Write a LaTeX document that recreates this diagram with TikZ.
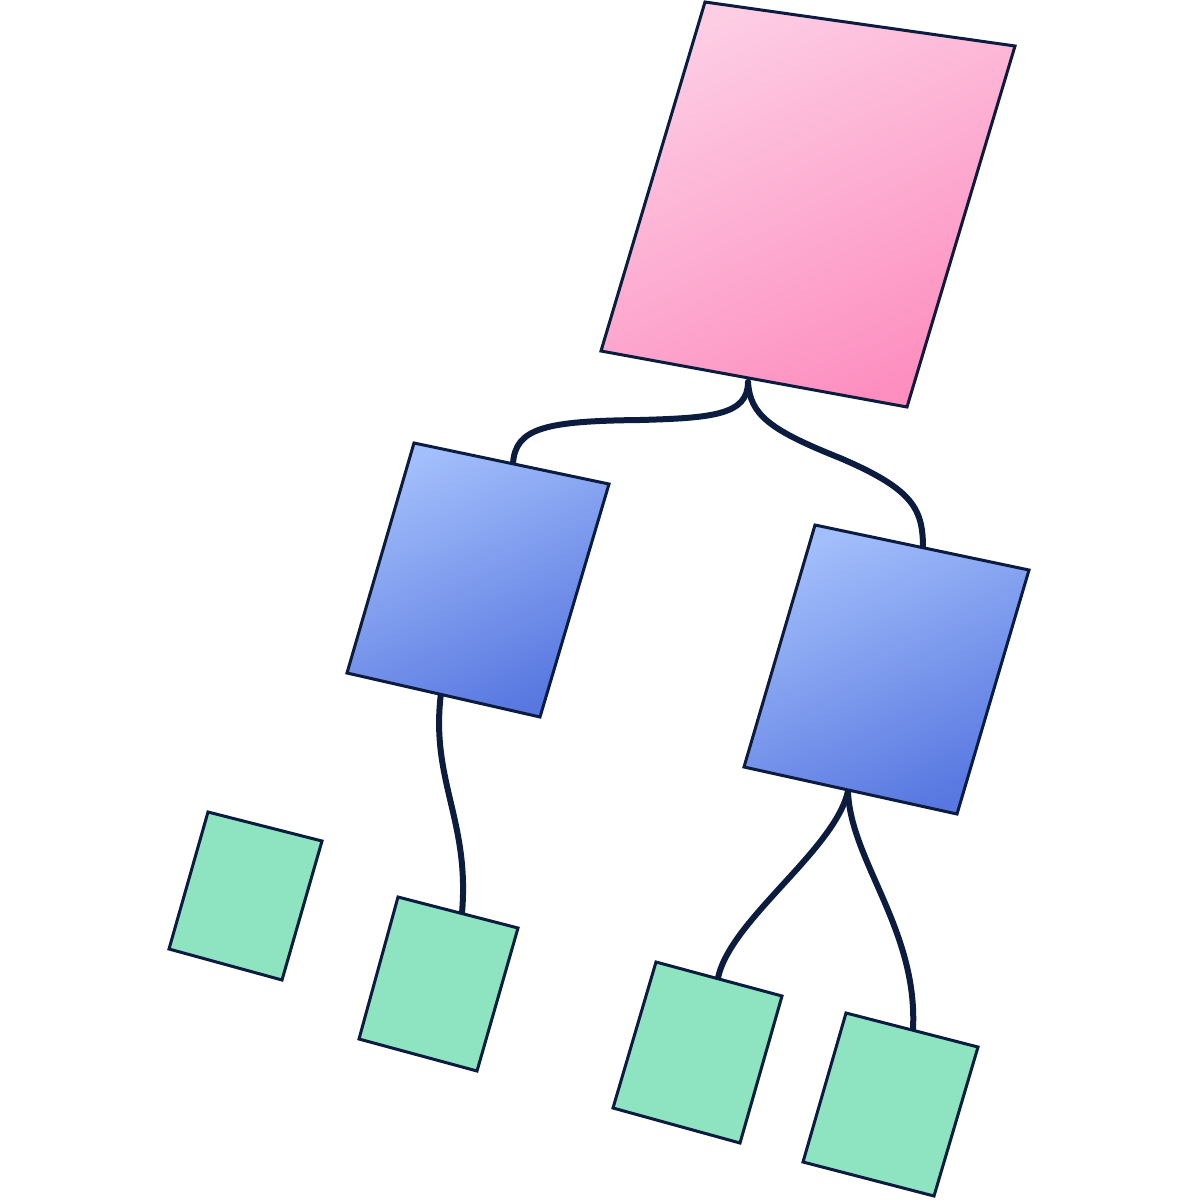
\documentclass[tikz,border=0pt]{standalone}
\begin{document}
\begin{tikzpicture}[x=1pt,y=-1pt,
  box/.style={draw=navy, line width=3pt, line join=miter},
  pinkbox/.style={box, top color=pinkA, bottom color=pinkB, shading angle=25},
  bluebox/.style={box, top color=blueA, bottom color=blueB, shading angle=25},
  greenbox/.style={box, fill=greenC},
  link/.style={draw=navy, line width=6pt, line cap=round}]
\definecolor{navy}{HTML}{0B1C3F}
\definecolor{pinkA}{HTML}{FDCDE4}
\definecolor{pinkB}{HTML}{FD8EBF}
\definecolor{blueA}{HTML}{A2BEFB}
\definecolor{blueB}{HTML}{5877E0}
\definecolor{greenC}{HTML}{8EE3C1}
\useasboundingbox (0,0) rectangle (1200,1200);
\fill[white] (0,0) rectangle (1200,1200);

% anchor coordinates for connectors
\coordinate (pinkbot) at (748,382);
\coordinate (bluelt) at (513,464);
\coordinate (blueltbot) at (441,693);
\coordinate (bluert) at (923,549);
\coordinate (bluertbot) at (848,791);
\coordinate (greenb) at (462,913);
\coordinate (greenc) at (718,978);
\coordinate (greend) at (913,1029);

% connectors (drawn first, boxes on top)
\draw[link] (pinkbot) .. controls (748,415) and (712,418) .. (640,420)
                      .. controls (545,421) and (515,428) .. (bluelt);
\draw[link] (pinkbot) .. controls (750,415) and (770,430) .. (840,458)
                      .. controls (915,490) and (923,510) .. (bluert);
\draw[link] (blueltbot) .. controls (430,780) and (470,820) .. (greenb);
\draw[link] (bluertbot) .. controls (835,850) and (730,920) .. (greenc);
\draw[link] (bluertbot) .. controls (850,860) and (918,930) .. (greend);

% boxes
\shadedraw[pinkbox] (705,2) -- (1015,46) -- (907,407) -- (601,351) -- cycle;
\shadedraw[bluebox] (414,443) -- (609,484) -- (540,717) -- (347,673) -- cycle;
\shadedraw[bluebox] (815,525) -- (1029,570) -- (957,814) -- (744,767) -- cycle;
\filldraw[greenbox] (208,812) -- (322,841) -- (282,980) -- (169,949) -- cycle;
\filldraw[greenbox] (398,897) -- (518,928) -- (477,1071) -- (359,1039) -- cycle;
\filldraw[greenbox] (656,962) -- (782,996) -- (740,1143) -- (613,1108) -- cycle;
\filldraw[greenbox] (846,1013) -- (978,1047) -- (934,1196) -- (803,1162) -- cycle;
\end{tikzpicture}
\end{document}
